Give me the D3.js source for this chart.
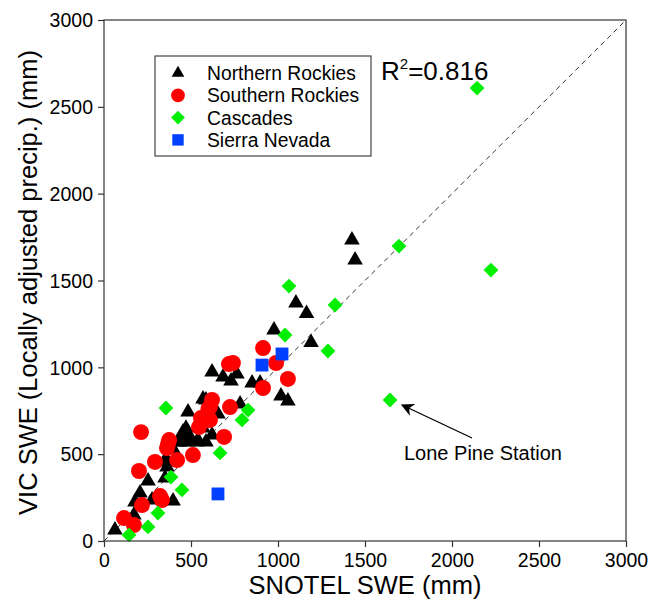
<!DOCTYPE html>
<html>
<head>
<meta charset="utf-8">
<script src="https://cdn.jsdelivr.net/npm/d3@7"></script>
<style>
  body { margin: 0; background: #fff; }
  svg { font-family: "Liberation Sans", Arial, Helvetica, sans-serif; }
</style>
</head>
<body>
<script>
// SNOTEL observed SWE vs VIC simulated SWE (mm), by region
const northernRockies = [
    [63, 63], [172, 150], [178, 225], [207, 276], [276, 236], [397, 230],
    [253, 345], [351, 363], [362, 426], [368, 455], [425, 570], [483, 570],
    [534, 570], [586, 570], [448, 599], [494, 599], [471, 650], [454, 627],
    [483, 743], [586, 812], [655, 731], [782, 789], [621, 973], [684, 944],
    [730, 921], [764, 961], [851, 910], [897, 910], [1017, 835], [1057, 806],
    [977, 1215], [1103, 1370], [1164, 1310], [1190, 1143], [1425, 1733],
    [1443, 1618], [540, 581], [397, 530], [351, 466], [437, 570], [569, 818],
    [569, 650], [621, 610]
];
const southernRockies = [
    [115, 132], [172, 92], [218, 207], [322, 259], [333, 236], [201, 403],
    [213, 627], [293, 455], [368, 558], [374, 581], [420, 466], [511, 495],
    [546, 656], [580, 708], [609, 697], [609, 771], [621, 812], [690, 599],
    [724, 771], [718, 1019], [741, 1025], [914, 1111], [989, 1025],
    [1057, 933], [914, 881], [362, 535], [557, 708], [600, 760], [592, 697]
];
const cascades = [
    [144, 35], [253, 81], [310, 161], [448, 294], [385, 368], [667, 507],
    [356, 766], [793, 697], [828, 754], [1040, 1186], [1063, 1468],
    [1287, 1094], [1328, 1359], [1644, 812], [1695, 1698], [2144, 2608],
    [2224, 1560]
];
const sierraNevada = [[655, 271], [908, 1013], [1023, 1077]];

const regionNames = ["Northern Rockies", "Southern Rockies", "Cascades", "Sierra Nevada"];
const axisTicks = [0, 500, 1000, 1500, 2000, 2500, 3000];
const rSquared = "0.816";
const annotationLabel = "Lone Pine Station";
const lonePine = [1644, 812];

const width = 649, height = 601;
const margin = {top: 20, right: 23, bottom: 60, left: 104};

const svg = d3.select("body").append("svg")
    .attr("width", width)
    .attr("height", height);

const x = d3.scaleLinear().domain([0, 3000]).range([margin.left, width - margin.right]);
const y = d3.scaleLinear().domain([0, 3000]).range([height - margin.bottom, margin.top]);

// Symbols for each region (diamond = square turned 45 degrees)
const symbols = [
    {data: northernRockies, type: d3.symbolTriangle, size: 105, legendSize: 70, color: "#000000", rot: 0},
    {data: southernRockies, type: d3.symbolCircle, size: 200, legendSize: 150, color: "#ff0000", rot: 0},
    {data: cascades, type: d3.symbolSquare, size: 110, legendSize: 95, color: "#00ee00", rot: 45},
    {data: sierraNevada, type: d3.symbolSquare, size: 165, legendSize: 130, color: "#0040ff", rot: 0}
];

// 1:1 line
svg.append("line")
    .attr("x1", x(0)).attr("y1", y(0))
    .attr("x2", x(3000)).attr("y2", y(3000))
    .attr("stroke", "#333")
    .attr("stroke-width", 1)
    .attr("stroke-dasharray", "5,4");

// Points
symbols.forEach(s => {
    svg.append("g")
        .selectAll("path")
        .data(s.data)
        .join("path")
        .attr("d", d3.symbol().type(s.type).size(s.size))
        .attr("transform", d => `translate(${x(d[0])},${y(d[1])}) rotate(${s.rot})`)
        .attr("fill", s.color);
});

// Frame
svg.append("rect")
    .attr("x", x(0)).attr("y", y(3000))
    .attr("width", x(3000) - x(0))
    .attr("height", y(0) - y(3000))
    .attr("fill", "none")
    .attr("stroke", "#333")
    .attr("stroke-width", 1.2);

// Axes
const xAxis = svg.append("g")
    .attr("transform", `translate(0,${y(0)})`)
    .call(d3.axisBottom(x).tickValues(axisTicks).tickSize(6).tickPadding(6).tickFormat(d3.format("d")));
const yAxis = svg.append("g")
    .attr("transform", `translate(${x(0)},0)`)
    .call(d3.axisLeft(y).tickValues(axisTicks).tickSize(6).tickPadding(5).tickFormat(d3.format("d")));

[xAxis, yAxis].forEach(a => {
    a.select(".domain").remove();
    a.selectAll("line").attr("stroke", "#333").attr("stroke-width", 1.2);
    a.selectAll("text")
        .attr("font-family", "Liberation Sans, Arial, sans-serif")
        .attr("font-size", 19.5)
        .attr("fill", "#000");
});
yAxis.selectAll("text").attr("dy", "0.35em");

// Axis titles
svg.append("text")
    .attr("x", (x(0) + x(3000)) / 2)
    .attr("y", 594)
    .attr("text-anchor", "middle")
    .attr("font-size", 25.5)
    .text("SNOTEL SWE (mm)");

svg.append("text")
    .attr("transform", `translate(37,${(y(0) + y(3000)) / 2 + 2}) rotate(-90)`)
    .attr("text-anchor", "middle")
    .attr("font-size", 25.5)
    .text("VIC SWE (Locally adjusted precip.) (mm)");

// R squared
const r2 = svg.append("text")
    .attr("x", 381)
    .attr("y", 80)
    .attr("font-size", 26);
r2.append("tspan").text("R");
r2.append("tspan").attr("font-size", 15).attr("dy", -11).text("2");
r2.append("tspan").attr("dy", 11).text("=" + rSquared);

// Legend
const legend = svg.append("g");
legend.append("rect")
    .attr("x", 155).attr("y", 56)
    .attr("width", 216).attr("height", 100)
    .attr("fill", "#fff")
    .attr("stroke", "#444")
    .attr("stroke-width", 1.2);

regionNames.forEach((name, i) => {
    const ly = 73 + i * 22.3;
    legend.append("path")
        .attr("d", d3.symbol().type(symbols[i].type).size(symbols[i].legendSize))
        .attr("transform", `translate(178,${ly}) rotate(${symbols[i].rot})`)
        .attr("fill", symbols[i].color);
    legend.append("text")
        .attr("x", 207)
        .attr("y", ly)
        .attr("dy", "0.36em")
        .attr("font-size", 19.3)
        .text(name);
});

// Annotation with arrow
svg.append("defs").append("marker")
    .attr("id", "arrow")
    .attr("viewBox", "0 0 10 10")
    .attr("refX", 9).attr("refY", 5)
    .attr("markerWidth", 13).attr("markerHeight", 13)
    .attr("markerUnits", "userSpaceOnUse")
    .attr("orient", "auto")
    .append("path")
    .attr("d", "M0,0 L10,5 L0,10 L3,5 Z")
    .attr("fill", "#000");

svg.append("line")
    .attr("x1", 472).attr("y1", 438)
    .attr("x2", x(lonePine[0]) + 12).attr("y2", y(lonePine[1]) + 5)
    .attr("stroke", "#000")
    .attr("stroke-width", 1.3)
    .attr("marker-end", "url(#arrow)");

svg.append("text")
    .attr("x", 404)
    .attr("y", 460)
    .attr("font-size", 20)
    .text(annotationLabel);
</script>
</body>
</html>
